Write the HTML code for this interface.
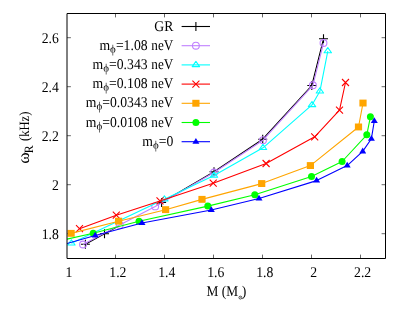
<!DOCTYPE html>
<html><head><meta charset="utf-8"><title>plot</title>
<style>
html,body{margin:0;padding:0;background:#fff;}
body{width:410px;height:316px;overflow:hidden;}
svg{display:block;}
text{font-family:"Liberation Serif",serif;font-size:14.9px;fill:#000;text-rendering:geometricPrecision;}
</style></head><body>
<svg width="410" height="316" viewBox="0 0 410 316">
<rect width="410" height="316" fill="#fff"/>
<defs><filter id="idf" x="0" y="0" width="410" height="316" filterUnits="userSpaceOnUse"><feOffset dx="0" dy="0"/></filter><clipPath id="cp"><rect x="67" y="13.5" width="318.5" height="245"/></clipPath></defs>

<path d="M115.50 258.5v-3.9M115.50 13.5v3.9M164.50 258.5v-3.9M164.50 13.5v3.9M213.50 258.5v-3.9M213.50 13.5v3.9M262.50 258.5v-3.9M262.50 13.5v3.9M311.50 258.5v-3.9M311.50 13.5v3.9M360.50 258.5v-3.9M360.50 13.5v3.9M67.0 233.70h3.9M385.5 233.70h-3.9M67.0 184.70h3.9M385.5 184.70h-3.9M67.0 135.70h3.9M385.5 135.70h-3.9M67.0 86.70h3.9M385.5 86.70h-3.9M67.0 37.70h3.9M385.5 37.70h-3.9" stroke="#000" stroke-width="0.6" fill="none"/>
<g clip-path="url(#cp)">
<path d="M85.40 244.30L104.50 233.80L119.00 225.83M158.50 204.10L161.60 202.40L214.00 171.80L262.70 139.20L311.80 85.50L323.50 38.80" stroke="#000000" stroke-width="1.1" fill="none" stroke-linejoin="round"/>
<path d="M80.90 244.30H89.90M85.40 239.80V248.80" stroke="#000000" stroke-width="1.1" fill="none"/>
<path d="M100.00 233.80H109.00M104.50 229.30V238.30" stroke="#000000" stroke-width="1.1" fill="none"/>
<path d="M157.10 202.40H166.10M161.60 197.90V206.90" stroke="#000000" stroke-width="1.1" fill="none"/>
<path d="M209.50 171.80H218.50M214.00 167.30V176.30" stroke="#000000" stroke-width="1.1" fill="none"/>
<path d="M258.20 139.20H267.20M262.70 134.70V143.70" stroke="#000000" stroke-width="1.1" fill="none"/>
<path d="M307.30 85.50H316.30M311.80 81.00V90.00" stroke="#000000" stroke-width="1.1" fill="none"/>
<path d="M319.00 38.80H328.00M323.50 34.30V43.30" stroke="#000000" stroke-width="1.1" fill="none"/>
<path d="M83.00 244.50L119.70 224.90L155.20 206.40L214.00 172.50L263.00 140.20L312.90 85.30L323.50 43.00" stroke="#c080ff" stroke-width="1.1" fill="none" stroke-linejoin="round"/>
<circle cx="83.00" cy="244.50" r="3.4" stroke="#c080ff" stroke-width="1.1" fill="none"/>
<circle cx="119.70" cy="224.90" r="3.4" stroke="#c080ff" stroke-width="1.1" fill="none"/>
<circle cx="155.20" cy="206.40" r="3.4" stroke="#c080ff" stroke-width="1.1" fill="none"/>
<circle cx="214.00" cy="172.50" r="3.4" stroke="#c080ff" stroke-width="1.1" fill="none"/>
<circle cx="263.00" cy="140.20" r="3.4" stroke="#c080ff" stroke-width="1.1" fill="none"/>
<circle cx="312.90" cy="85.30" r="3.4" stroke="#c080ff" stroke-width="1.1" fill="none"/>
<circle cx="323.50" cy="43.00" r="3.4" stroke="#c080ff" stroke-width="1.1" fill="none"/>
<path d="M71.40 243.30L164.40 199.30L214.00 175.60L263.00 147.85L312.00 104.95L319.90 91.30L327.80 51.10" stroke="#00ffff" stroke-width="1.1" fill="none" stroke-linejoin="round"/>
<path d="M71.40 239.80L67.70 245.00H75.10Z" stroke="#00ffff" stroke-width="1.1" fill="none" stroke-linejoin="round"/>
<path d="M164.40 195.80L160.70 201.00H168.10Z" stroke="#00ffff" stroke-width="1.1" fill="none" stroke-linejoin="round"/>
<path d="M214.00 172.10L210.30 177.30H217.70Z" stroke="#00ffff" stroke-width="1.1" fill="none" stroke-linejoin="round"/>
<path d="M263.00 144.35L259.30 149.55H266.70Z" stroke="#00ffff" stroke-width="1.1" fill="none" stroke-linejoin="round"/>
<path d="M312.00 101.45L308.30 106.65H315.70Z" stroke="#00ffff" stroke-width="1.1" fill="none" stroke-linejoin="round"/>
<path d="M319.90 87.80L316.20 93.00H323.60Z" stroke="#00ffff" stroke-width="1.1" fill="none" stroke-linejoin="round"/>
<path d="M327.80 47.60L324.10 52.80H331.50Z" stroke="#00ffff" stroke-width="1.1" fill="none" stroke-linejoin="round"/>
<path d="M79.50 228.70L116.30 215.20L160.00 200.90L213.20 183.20L266.10 163.50L314.70 136.80L339.50 110.20L345.50 82.50" stroke="#ff0000" stroke-width="1.1" fill="none" stroke-linejoin="round"/>
<path d="M76.00 225.20L83.00 232.20M76.00 232.20L83.00 225.20" stroke="#ff0000" stroke-width="1.1" fill="none"/>
<path d="M112.80 211.70L119.80 218.70M112.80 218.70L119.80 211.70" stroke="#ff0000" stroke-width="1.1" fill="none"/>
<path d="M156.50 197.40L163.50 204.40M156.50 204.40L163.50 197.40" stroke="#ff0000" stroke-width="1.1" fill="none"/>
<path d="M209.70 179.70L216.70 186.70M209.70 186.70L216.70 179.70" stroke="#ff0000" stroke-width="1.1" fill="none"/>
<path d="M262.60 160.00L269.60 167.00M262.60 167.00L269.60 160.00" stroke="#ff0000" stroke-width="1.1" fill="none"/>
<path d="M311.20 133.30L318.20 140.30M311.20 140.30L318.20 133.30" stroke="#ff0000" stroke-width="1.1" fill="none"/>
<path d="M336.00 106.70L343.00 113.70M336.00 113.70L343.00 106.70" stroke="#ff0000" stroke-width="1.1" fill="none"/>
<path d="M342.00 79.00L349.00 86.00M342.00 86.00L349.00 79.00" stroke="#ff0000" stroke-width="1.1" fill="none"/>
<path d="M71.10 233.40L118.60 221.20L165.60 209.70L202.00 199.40L261.70 183.60L310.40 165.60L358.50 127.00L363.00 103.10" stroke="#ffa500" stroke-width="1.1" fill="none" stroke-linejoin="round"/>
<rect x="67.50" y="229.90" width="7.20" height="6.90" fill="#ffa500"/>
<rect x="115.00" y="217.70" width="7.20" height="6.90" fill="#ffa500"/>
<rect x="162.00" y="206.20" width="7.20" height="6.90" fill="#ffa500"/>
<rect x="198.40" y="195.90" width="7.20" height="6.90" fill="#ffa500"/>
<rect x="258.10" y="180.10" width="7.20" height="6.90" fill="#ffa500"/>
<rect x="306.80" y="162.10" width="7.20" height="6.90" fill="#ffa500"/>
<rect x="354.90" y="123.50" width="7.20" height="6.90" fill="#ffa500"/>
<rect x="359.40" y="99.60" width="7.20" height="6.90" fill="#ffa500"/>
<path d="M41.00 245.00L93.20 233.20L139.00 221.20L207.80 206.10L254.80 194.70L311.50 176.60L342.10 161.50L366.80 134.80L370.40 116.80" stroke="#00ff00" stroke-width="1.1" fill="none" stroke-linejoin="round"/>
<circle cx="93.20" cy="233.20" r="3.5" fill="#00ff00"/>
<circle cx="139.00" cy="221.20" r="3.5" fill="#00ff00"/>
<circle cx="207.80" cy="206.10" r="3.5" fill="#00ff00"/>
<circle cx="254.80" cy="194.70" r="3.5" fill="#00ff00"/>
<circle cx="311.50" cy="176.60" r="3.5" fill="#00ff00"/>
<circle cx="342.10" cy="161.50" r="3.5" fill="#00ff00"/>
<circle cx="366.80" cy="134.80" r="3.5" fill="#00ff00"/>
<circle cx="370.40" cy="116.80" r="3.5" fill="#00ff00"/>
<path d="M40.00 251.20L95.20 235.50L142.00 223.00L211.30 210.00L259.00 198.50L316.60 180.60L347.20 165.60L362.70 151.40L371.40 138.70L374.30 121.00" stroke="#0000ff" stroke-width="1.1" fill="none" stroke-linejoin="round"/>
<path d="M95.20 231.70L91.70 237.50H98.70Z" fill="#0000ff"/>
<path d="M142.00 219.20L138.50 225.00H145.50Z" fill="#0000ff"/>
<path d="M211.30 206.20L207.80 212.00H214.80Z" fill="#0000ff"/>
<path d="M259.00 194.70L255.50 200.50H262.50Z" fill="#0000ff"/>
<path d="M316.60 176.80L313.10 182.60H320.10Z" fill="#0000ff"/>
<path d="M347.20 161.80L343.70 167.60H350.70Z" fill="#0000ff"/>
<path d="M362.70 147.60L359.20 153.40H366.20Z" fill="#0000ff"/>
<path d="M371.40 134.90L367.90 140.70H374.90Z" fill="#0000ff"/>
<path d="M374.30 117.20L370.80 123.00H377.80Z" fill="#0000ff"/>
</g>
<path d="M67.0 13.5H385.5V258.5H67.0Z" stroke="#000" stroke-width="1" fill="none"/>
<g filter="url(#idf)">
<path d="M181.6 26.50H210" stroke="#000000" stroke-width="1.1"/>
<path d="M191.40 26.50H200.40M195.90 22.00V31.00" stroke="#000000" stroke-width="1.1" fill="none"/>
<text transform="translate(173.30,30.60) scale(0.92,1)" text-anchor="end">GR</text>
<path d="M181.6 45.70H210" stroke="#c080ff" stroke-width="1.1"/>
<circle cx="195.90" cy="45.70" r="3.4" stroke="#c080ff" stroke-width="1.1" fill="none"/>
<text transform="translate(173.3,49.80) scale(0.885,1)" text-anchor="end">neV</text>
<text transform="translate(147.60,49.80) scale(0.92,1)" text-anchor="end">m<tspan font-size="11.9px" dy="2.9">ϕ</tspan><tspan dy="-2.9">=1.08</tspan></text>
<path d="M181.6 64.90H210" stroke="#00ffff" stroke-width="1.1"/>
<path d="M195.90 61.40L192.20 66.60H199.60Z" stroke="#00ffff" stroke-width="1.1" fill="none" stroke-linejoin="round"/>
<text transform="translate(173.3,69.00) scale(0.885,1)" text-anchor="end">neV</text>
<text transform="translate(147.60,69.00) scale(0.92,1)" text-anchor="end">m<tspan font-size="11.9px" dy="2.9">ϕ</tspan><tspan dy="-2.9">=0.343</tspan></text>
<path d="M181.6 84.10H210" stroke="#ff0000" stroke-width="1.1"/>
<path d="M192.40 80.60L199.40 87.60M192.40 87.60L199.40 80.60" stroke="#ff0000" stroke-width="1.1" fill="none"/>
<text transform="translate(173.3,88.20) scale(0.885,1)" text-anchor="end">neV</text>
<text transform="translate(147.60,88.20) scale(0.92,1)" text-anchor="end">m<tspan font-size="11.9px" dy="2.9">ϕ</tspan><tspan dy="-2.9">=0.108</tspan></text>
<path d="M181.6 103.30H210" stroke="#ffa500" stroke-width="1.1"/>
<rect x="192.30" y="99.80" width="7.20" height="6.90" fill="#ffa500"/>
<text transform="translate(173.3,107.40) scale(0.885,1)" text-anchor="end">neV</text>
<text transform="translate(147.60,107.40) scale(0.92,1)" text-anchor="end">m<tspan font-size="11.9px" dy="2.9">ϕ</tspan><tspan dy="-2.9">=0.0343</tspan></text>
<path d="M181.6 122.50H210" stroke="#00ff00" stroke-width="1.1"/>
<circle cx="195.90" cy="122.50" r="3.5" fill="#00ff00"/>
<text transform="translate(173.3,126.60) scale(0.885,1)" text-anchor="end">neV</text>
<text transform="translate(147.60,126.60) scale(0.92,1)" text-anchor="end">m<tspan font-size="11.9px" dy="2.9">ϕ</tspan><tspan dy="-2.9">=0.0108</tspan></text>
<path d="M181.6 141.70H210" stroke="#0000ff" stroke-width="1.1"/>
<path d="M195.90 137.90L192.40 143.70H199.40Z" fill="#0000ff"/>
<text transform="translate(173.30,145.80) scale(0.92,1)" text-anchor="end">m<tspan font-size="11.9px" dy="2.9">ϕ</tspan><tspan dy="-2.9">=0</tspan></text>
<text transform="translate(68.90,276.90) scale(0.92,1)" text-anchor="middle">1</text>
<text transform="translate(117.86,276.90) scale(0.92,1)" text-anchor="middle">1.2</text>
<text transform="translate(166.82,276.90) scale(0.92,1)" text-anchor="middle">1.4</text>
<text transform="translate(215.78,276.90) scale(0.92,1)" text-anchor="middle">1.6</text>
<text transform="translate(264.74,276.90) scale(0.92,1)" text-anchor="middle">1.8</text>
<text transform="translate(313.70,276.90) scale(0.92,1)" text-anchor="middle">2</text>
<text transform="translate(362.66,276.90) scale(0.92,1)" text-anchor="middle">2.2</text>
<text transform="translate(58.80,239.00) scale(0.92,1)" text-anchor="end">1.8</text>
<text transform="translate(58.80,190.00) scale(0.92,1)" text-anchor="end">2</text>
<text transform="translate(58.80,141.00) scale(0.92,1)" text-anchor="end">2.2</text>
<text transform="translate(58.80,92.00) scale(0.92,1)" text-anchor="end">2.4</text>
<text transform="translate(58.80,43.00) scale(0.92,1)" text-anchor="end">2.6</text>
<text transform="translate(238.1,295.9) scale(0.895,1)" text-anchor="end">M (M</text>
<circle cx="240.4" cy="297.6" r="1.45" fill="none" stroke="#000" stroke-width="0.7"/><circle cx="240.4" cy="297.6" r="0.45" fill="#000"/>
<text transform="translate(241.7,295.9) scale(0.92,1)" text-anchor="start">)</text>
<text transform="translate(28.5,163.8) rotate(-90) scale(1.04,1)" style="font-size:16.7px">ω</text>
<text transform="translate(32.6,153.3) rotate(-90) scale(0.937,1)" style="font-size:12.7px">R</text>
<text transform="translate(28.5,141.0) rotate(-90) scale(0.886,1)" style="font-size:14.2px">(kHz)</text>
</g>
</svg></body></html>
